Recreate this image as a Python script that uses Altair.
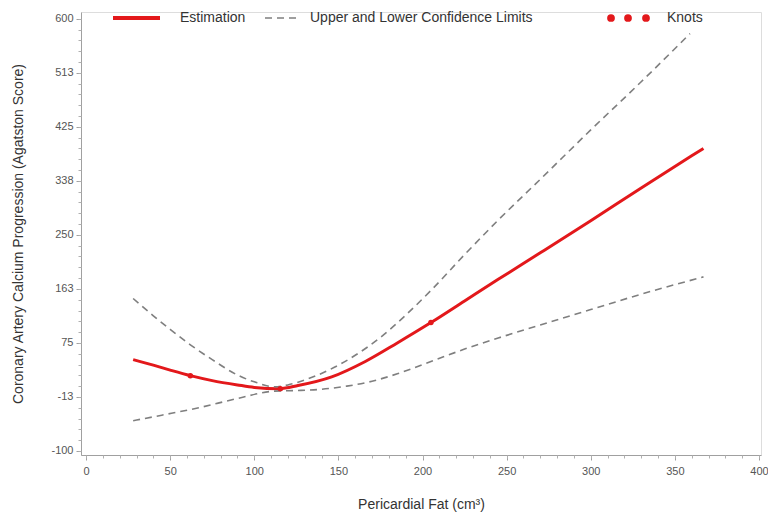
import altair as alt
import pandas as pd

# ---- data ----
est_x = [28, 40, 50, 62, 75, 90, 100, 115, 126, 146, 166, 185, 205, 225, 245, 270, 300, 330, 360, 367]
est_y = [48, 39, 31, 22, 14, 7, 3, 1, 6, 20, 45, 75, 108, 143, 178, 221, 273, 326, 378, 390]

upper_x = [28, 40, 50, 62, 75, 90, 100, 112, 120, 130, 145, 160, 175, 190, 205, 225, 245, 270, 300, 330, 359]
upper_y = [147, 119, 97, 72, 48, 23, 12, 4, 7, 15, 32, 55, 84, 120, 160, 218, 274, 340, 420, 498, 576]

lower_x = [28, 45, 67, 90, 112, 126, 140, 155, 170, 185, 205, 225, 245, 270, 300, 330, 367]
lower_y = [-51, -42, -30, -15, -3, -2, 0, 5, 13, 25, 45, 65, 83, 104, 129, 154, 182]

knot_x = [62, 115.5, 205]
knot_y = [22, 1, 108]

x_ticks = [0, 50, 100, 150, 200, 250, 300, 350, 400]
y_ticks = [-100, -12.5, 75, 162.5, 250, 337.5, 425, 512.5, 600]
x_minor = list(range(0, 401, 10))
y_minor = [-100 + 17.5 * i for i in range(41)]

legend_labels = ["Estimation", "Upper and Lower Confidence Limits", "Knots"]

RED = "#e3181b"
GREY = "#7f7f7f"
FONT = "Liberation Sans"

est_df = pd.DataFrame({"x": est_x, "y": est_y})
ci_df = pd.concat([
    pd.DataFrame({"x": upper_x, "y": upper_y, "series": "Upper"}),
    pd.DataFrame({"x": lower_x, "y": lower_y, "series": "Lower"}),
])
knot_df = pd.DataFrame({"x": knot_x, "y": knot_y})

xscale = alt.Scale(domain=[-3, 401.2], nice=False, zero=False)
yscale = alt.Scale(domain=[-106.5, 611], nice=False, zero=False)

main_x_axis = alt.Axis(values=x_ticks, grid=False, tickSize=5, tickColor="#a0a0a0",
                       domainColor="#a0a0a0", labelColor="#555555", labelFontSize=11,
                       labelFont=FONT, labelPadding=5, title="Pericardial Fat (cm³)",
                       titleFont=FONT, titleFontSize=14, titleFontWeight="normal",
                       titleColor="#333333", titlePadding=21, orient="bottom")
main_y_axis = alt.Axis(values=y_ticks, grid=False, tickSize=5, tickColor="#a0a0a0",
                       domainColor="#a0a0a0", labelColor="#555555", labelFontSize=11,
                       labelFont=FONT, labelPadding=3,
                       labelExpr="datum.value < 0 ? '-' + format(-datum.value, '.0f') : format(datum.value, '.0f')",
                       title="Coronary Artery Calcium Progression (Agatston Score)",
                       titleFont=FONT, titleFontSize=14, titleFontWeight="normal",
                       titleColor="#333333", titlePadding=25, orient="left")
minor_x_axis = alt.Axis(values=x_minor, grid=False, labels=False, domain=False, tickSize=3,
                        tickColor="#b0b0b0", title=None, orient="bottom")
minor_y_axis = alt.Axis(values=y_minor, grid=False, labels=False, domain=False, tickSize=3,
                        tickColor="#b0b0b0", title=None, orient="left")

minor = alt.Chart(est_df).mark_line(opacity=0).encode(
    x=alt.X("x:Q", scale=xscale, axis=minor_x_axis),
    y=alt.Y("y:Q", scale=yscale, axis=minor_y_axis),
)

ci = alt.Chart(ci_df).mark_line(color=GREY, strokeWidth=1.6, strokeDash=[7, 5],
                                interpolate="monotone").encode(
    x=alt.X("x:Q", scale=xscale, axis=None),
    y=alt.Y("y:Q", scale=yscale, axis=None),
    detail="series:N",
)

est = alt.Chart(est_df).mark_line(color=RED, strokeWidth=3, interpolate="monotone").encode(
    x=alt.X("x:Q", scale=xscale, axis=main_x_axis),
    y=alt.Y("y:Q", scale=yscale, axis=main_y_axis),
)

knots = alt.Chart(knot_df).mark_circle(color=RED, size=30, opacity=1).encode(
    x=alt.X("x:Q", scale=xscale, axis=None),
    y=alt.Y("y:Q", scale=yscale, axis=None),
)

# ---- manual legend at the top of the plot area ----
leg_text = alt.Chart(pd.DataFrame({"t": legend_labels, "px": [99, 229, 586]})).mark_text(
    align="left", baseline="middle", font=FONT, fontSize=14, color="#333333"
).encode(x=alt.X("px:Q", scale=None), y=alt.value(6), text="t:N")

leg_red = alt.Chart(pd.DataFrame({"a": [0]})).mark_rule(color=RED, strokeWidth=4).encode(
    x=alt.value(32), x2=alt.value(79), y=alt.value(6))
leg_dash = alt.Chart(pd.DataFrame({"a": [0]})).mark_rule(color=GREY, strokeWidth=1.6,
                                                          strokeDash=[7, 5]).encode(
    x=alt.value(184), x2=alt.value(216), y=alt.value(6))
leg_dots = alt.Chart(pd.DataFrame({"px": [530, 547, 565]})).mark_circle(
    color=RED, size=60, opacity=1).encode(x=alt.X("px:Q", scale=None), y=alt.value(6))

chart = alt.layer(est, minor, ci, knots, leg_red, leg_dash, leg_dots, leg_text).resolve_axis(
    x="independent", y="independent"
).properties(
    width=680, height=443,
    autosize=alt.AutoSizeParams(type="none"),
    padding={"left": 73, "top": 4, "right": 7, "bottom": 59},
).configure_view(stroke=None).configure(background="white")

chart.save("out.html", embed_options={"renderer": "svg", "actions": False})
